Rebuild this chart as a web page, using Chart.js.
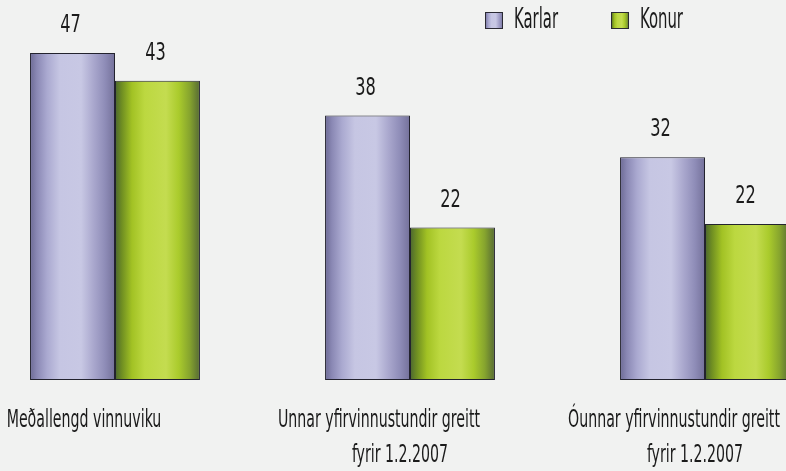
<!DOCTYPE html>
<html>
<head>
<meta charset="utf-8">
<script src="https://cdn.jsdelivr.net/npm/chart.js@4"></script>
<style>
  html, body { margin: 0; padding: 0; background: #f1f2f1; }
  #wrap { width: 786px; height: 471px; }
</style>
</head>
<body>
<div id="wrap"><canvas id="myChart" width="786" height="471"></canvas></div>
<script>
// gögn
const categories = [
    ['Meðallengd vinnuviku'],
    ['Unnar yfirvinnustundir greitt', 'fyrir 1.2.2007'],
    ['Óunnar yfirvinnustundir greitt', 'fyrir 1.2.2007']
];
const seriesNames = ['Karlar', 'Konur'];
const karlar = [47, 38, 32];
const konur = [43, 21.9, 22.4];

const FONT = '"DejaVu Sans Condensed", "Liberation Sans Narrow", sans-serif';
const TEXT = '#1b1b1b';
const CAT_PCT = 0.576;

// litir: lárétt "sívalnings" skygging
const purpleStops = [
    [0, '#6c6a94'], [0.08, '#8a88b4'], [0.2, '#aaa9d0'], [0.35, '#c6c6e3'],
    [0.6, '#c8c8e4'], [0.75, '#a9a7cd'], [0.88, '#8f8db8'], [1, '#74719a']
];
const greenStops = [
    [0, '#4b6630'], [0.08, '#6f8e22'], [0.2, '#a2c224'], [0.35, '#bcd840'],
    [0.6, '#c4dc50'], [0.75, '#aacb2c'], [0.88, '#86a42e'], [1, '#566a34']
];

function makeGradient(c, left, width, stops) {
    const g = c.createLinearGradient(left, 0, left + width, 0);
    stops.forEach(s => g.addColorStop(s[0], s[1]));
    return g;
}

function barFill(stops) {
    return function (context) {
        const chart = context.chart;
        const xs = chart.scales.x;
        if (context.type !== 'data' || !xs || !chart.chartArea) return stops[4][1];
        const step = xs.getPixelForValue(1) - xs.getPixelForValue(0);
        const w = step * CAT_PCT / 2;
        const left = xs.getPixelForValue(context.dataIndex) - w + context.datasetIndex * w;
        return makeGradient(chart.ctx, left, w, stops);
    };
}

function drawText(c, str, x, y, size, sx, align) {
    c.save();
    c.font = size + 'px ' + FONT;
    c.fillStyle = TEXT;
    c.textBaseline = 'alphabetic';
    c.textAlign = align || 'center';
    c.translate(x, y);
    c.scale(sx, 1);
    c.fillText(str, 0, 0);
    c.restore();
}

const labelsPlugin = {
    id: 'labelsPlugin',
    afterDatasetsDraw(chart) {
        const c = chart.ctx;
        chart.data.datasets.forEach((ds, i) => {
            chart.getDatasetMeta(i).data.forEach((el, j) => {
                drawText(c, String(Math.round(ds.data[j])), el.x - 2, el.y - 21, 25, 0.72);
            });
        });
    },
    afterDraw(chart) {
        const c = chart.ctx;
        const xs = chart.scales.x;
        categories.forEach((lines, i) => {
            const cx = xs.getPixelForValue(i);
            drawText(c, lines[0], cx - 31, 427, 25, 0.63);
            if (lines[1]) drawText(c, lines[1], cx - 10, 462, 25, 0.63);
        });

        // skýringar
        let x = 485;
        chart.data.datasets.forEach((ds, i) => {
            const stops = i === 0 ? purpleStops : greenStops;
            c.save();
            c.fillStyle = makeGradient(c, x, 18, stops);
            c.fillRect(x, 12, 18, 17);
            c.strokeStyle = '#2a2a33';
            c.lineWidth = 1;
            c.strokeRect(x + 0.5, 12.5, 17, 16);
            c.restore();
            drawText(c, ds.label, x + 29, 28, 28, 0.59, 'left');
            c.save();
            c.font = '28px ' + FONT;
            const tw = c.measureText(ds.label).width * 0.59;
            c.restore();
            x += 29 + tw + 53;
        });
    }
};

const ctx = document.getElementById('myChart').getContext('2d');
const myChart = new Chart(ctx, {
    type: 'bar',
    data: {
        labels: categories.map(l => l.join(' ')),
        datasets: [{
            label: seriesNames[0],
            data: karlar,
            backgroundColor: barFill(purpleStops),
            borderColor: '#23232e',
            borderWidth: 1,
            borderSkipped: false,
            clip: false
        }, {
            label: seriesNames[1],
            data: konur,
            backgroundColor: barFill(greenStops),
            borderColor: '#23232e',
            borderWidth: 1,
            borderSkipped: false,
            clip: false
        }]
    },
    options: {
        responsive: false,
        animation: false,
        categoryPercentage: CAT_PCT,
        barPercentage: 1,
        layout: { padding: { left: 115, right: 81, top: 32, bottom: 91 } },
        scales: {
            x: { display: false, offset: false, grid: { display: false } },
            y: { display: false, min: 0, max: 50 }
        },
        plugins: {
            legend: { display: false },
            tooltip: { enabled: false }
        }
    },
    plugins: [labelsPlugin]
});
</script>
</body>
</html>
